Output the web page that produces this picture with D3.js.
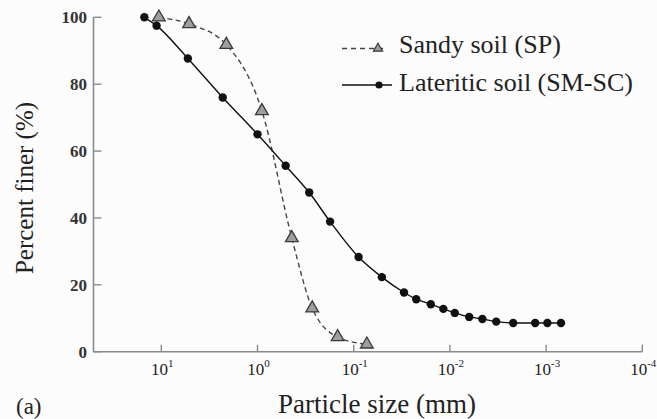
<!DOCTYPE html>
<html>
<head>
<meta charset="utf-8">
<script src="https://cdn.jsdelivr.net/npm/d3@7"></script>
<style>
  html, body { margin: 0; padding: 0; background: #fcfcfc; }
  svg { display: block; }
</style>
</head>
<body>
<script>
// Grain-size distribution: particle size (mm, log scale, reversed) vs percent finer
const sandySize    = [10.6, 5.15, 2.11, 0.90, 0.44, 0.27, 0.147, 0.073];
const sandyFiner   = [100, 98, 91.8, 72, 34, 13, 4.4, 2.2];

const lateriticSize  = [15, 11.2, 5.3, 2.3, 1.0, 0.51, 0.29, 0.176, 0.089, 0.051, 0.030,
                        0.0224, 0.0158, 0.0117, 0.0089, 0.0063, 0.0046, 0.0033, 0.0022,
                        0.0013, 0.00097, 0.0007];
const lateriticFiner = [100, 97.5, 87.7, 76.0, 65.0, 55.6, 47.6, 38.9, 28.3, 22.3, 17.7,
                        15.7, 14.2, 12.8, 11.6, 10.4, 9.8, 9.0, 8.6,
                        8.6, 8.6, 8.6];

const xTickExponents = [1, 0, -1, -2, -3, -4];
const yTicks = [0, 20, 40, 60, 80, 100];
const seriesNames = ["Sandy soil (SP)", "Lateritic soil (SM-SC)"];
const xTitle = "Particle size (mm)";
const yTitle = "Percent finer (%)";
const panelLabel = "(a)";

const W = 657, H = 419;
const FONT = "'Liberation Serif'";
const svg = d3.select("body").append("svg").attr("width", W).attr("height", H);

// every text node gets the serif face directly
function label(sel) {
  return sel.append("text").style("font-family", FONT).attr("fill", "#222");
}

const x = d3.scaleLog().domain([50.7, 1e-4]).range([93.5, 642.3]);
const y = d3.scaleLinear().domain([0, 100]).range([351.7, 17.3]);

const axisColor = "#8a8a8a";

// Axes
svg.append("line").attr("x1", x.range()[0]).attr("x2", x.range()[1])
  .attr("y1", y(0)).attr("y2", y(0)).attr("stroke", axisColor).attr("stroke-width", 1.6);
svg.append("line").attr("x1", x.range()[0]).attr("x2", x.range()[0])
  .attr("y1", y(0)).attr("y2", y(100)).attr("stroke", axisColor).attr("stroke-width", 1.6);

// x ticks (inward) and labels 10^n
const xt = svg.append("g");
xTickExponents.forEach(e => {
  const px = x(Math.pow(10, e));
  xt.append("line").attr("x1", px).attr("x2", px).attr("y1", y(0)).attr("y2", y(0) - 7)
    .attr("stroke", axisColor).attr("stroke-width", 1.4);
  const t = label(xt).attr("x", px + 1).attr("y", 375)
    .attr("text-anchor", "middle").attr("font-size", 17);
  t.append("tspan").text("10");
  t.append("tspan").attr("dy", -8).attr("font-size", 11).text(String(e));
});

// y ticks (inward) and labels
const yt = svg.append("g");
yTicks.forEach(v => {
  const py = y(v);
  yt.append("line").attr("x1", x.range()[0]).attr("x2", x.range()[0] + 8)
    .attr("y1", py).attr("y2", py).attr("stroke", axisColor).attr("stroke-width", 1.4);
  label(yt).attr("x", 87).attr("y", py + 6)
    .attr("text-anchor", "end").attr("font-size", 17).attr("font-weight", "bold")
    .attr("fill", "#333").text(v);
});

// Titles
label(svg).attr("x", 377).attr("y", 413).attr("text-anchor", "middle")
  .attr("font-size", 27).text(xTitle);
label(svg).attr("transform", "translate(33,188) rotate(-90)")
  .attr("text-anchor", "middle").attr("font-size", 25).text(yTitle);
label(svg).attr("x", 16).attr("y", 414).attr("font-size", 23).text(panelLabel);

// Curves
const line = d3.line().x(d => x(d[0])).y(d => y(d[1])).curve(d3.curveMonotoneX);
const sandy = sandySize.map((s, i) => [s, sandyFiner[i]]);
const lat = lateriticSize.map((s, i) => [s, lateriticFiner[i]]);

svg.append("path").datum(sandy).attr("d", line).attr("fill", "none")
  .attr("stroke", "#444").attr("stroke-width", 1.4).attr("stroke-dasharray", "5,3.5");
svg.append("path").datum(lat).attr("d", line).attr("fill", "none")
  .attr("stroke", "#111").attr("stroke-width", 1.4);

const tri = d3.symbol().type(d3.symbolTriangle).size(70);
const triSmall = d3.symbol().type(d3.symbolTriangle).size(36);

svg.append("g").selectAll("path").data(sandy).join("path")
  .attr("transform", d => `translate(${x(d[0])},${y(d[1])})`)
  .attr("d", tri).attr("fill", "#9e9e9e").attr("stroke", "#3a3a3a").attr("stroke-width", 1.3);

svg.append("g").selectAll("circle").data(lat).join("circle")
  .attr("cx", d => x(d[0])).attr("cy", d => y(d[1])).attr("r", 4.2).attr("fill", "#111");

// Legend
const lg = svg.append("g");
lg.append("line").attr("x1", 342).attr("x2", 386).attr("y1", 48.5).attr("y2", 48.5)
  .attr("stroke", "#444").attr("stroke-width", 1.3).attr("stroke-dasharray", "5,4");
lg.append("path").attr("transform", "translate(378,48.5)").attr("d", triSmall)
  .attr("fill", "#9e9e9e").attr("stroke", "#3a3a3a").attr("stroke-width", 1.2);
label(lg).attr("x", 399).attr("y", 53).attr("font-size", 26).text(seriesNames[0]);

lg.append("line").attr("x1", 342).attr("x2", 392).attr("y1", 85).attr("y2", 85)
  .attr("stroke", "#111").attr("stroke-width", 1.3);
lg.append("circle").attr("cx", 379).attr("cy", 85).attr("r", 3.6).attr("fill", "#111");
label(lg).attr("x", 399).attr("y", 91).attr("font-size", 26).text(seriesNames[1]);
</script>
</body>
</html>
